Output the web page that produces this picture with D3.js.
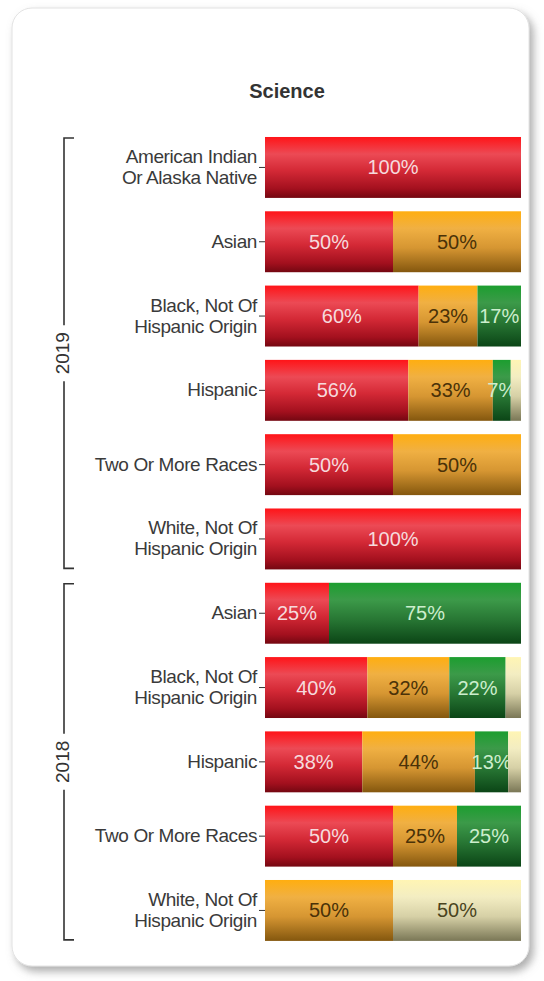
<!DOCTYPE html>
<html>
<head>
<meta charset="utf-8">
<title>Science</title>
<script src="https://d3js.org/d3.v7.min.js"></script>
<style>
    body { margin: 0; background: #ffffff; font-family: "Liberation Sans", Arial, sans-serif; }
    .cat { font-size: 19px; fill: #3a3a3a; letter-spacing: -0.4px; }
    .pct { font-size: 20px; }
</style>
</head>
<body>
<script>
// rows, top to bottom
var groups = ["2019", "2018"];
var groupSizes = [6, 5];
var categories = [
    "American Indian|Or Alaska Native", "Asian", "Black, Not Of|Hispanic Origin", "Hispanic",
    "Two Or More Races", "White, Not Of|Hispanic Origin",
    "Asian", "Black, Not Of|Hispanic Origin", "Hispanic", "Two Or More Races", "White, Not Of|Hispanic Origin"
];
// percent of students per level
var level1 = [100, 50, 60, 56, 50, 100, 25, 40, 38, 50, 0];
var level2 = [0, 50, 23, 33, 50, 0, 0, 32, 44, 25, 50];
var level3 = [0, 0, 17, 7, 0, 0, 75, 22, 13, 25, 0];
var level4 = [0, 0, 0, 4, 0, 0, 0, 6, 5, 0, 50];

var keys = ["l1", "l2", "l3", "l4"];
var table = categories.map(function(c, i) {
    return { i: i, l1: level1[i], l2: level2[i], l3: level3[i], l4: level4[i] };
});

var gradStops = {
    l1: [["0%", "#ff1418"], ["28%", "#ec4a55"], ["55%", "#d42936"], ["85%", "#a3101e"], ["100%", "#740711"]],
    l2: [["0%", "#ffae10"], ["28%", "#f0b043"], ["60%", "#d69632"], ["100%", "#84570e"]],
    l3: [["0%", "#1c9e2f"], ["28%", "#3c9a49"], ["60%", "#287734"], ["100%", "#0b4516"]],
    l4: [["0%", "#fff5b4"], ["28%", "#f3edc2"], ["60%", "#d6d0a6"], ["100%", "#7a7756"]]
};
var textColor = { l1: "#f6dadd", l2: "#4a3208", l3: "#cdeecd", l4: "#4a4420" };

var width = 544, height = 981;

var svg = d3.select("body").append("svg")
    .attr("width", width)
    .attr("height", height);

var defs = svg.append("defs");
var shadow = defs.append("filter").attr("id", "shadow")
    .attr("x", "-5%").attr("y", "-5%").attr("width", "115%").attr("height", "115%");
shadow.append("feDropShadow")
    .attr("dx", 4).attr("dy", 5).attr("stdDeviation", 4)
    .attr("flood-color", "#777").attr("flood-opacity", 0.6);

keys.forEach(function(k) {
    var lg = defs.append("linearGradient").attr("id", "g_" + k)
        .attr("x1", 0).attr("y1", 0).attr("x2", 0).attr("y2", 1);
    gradStops[k].forEach(function(s) {
        lg.append("stop").attr("offset", s[0]).attr("stop-color", s[1]);
    });
});

// panel
svg.append("rect")
    .attr("x", 12).attr("y", 8)
    .attr("width", 517).attr("height", 958)
    .attr("rx", 20).attr("ry", 20)
    .attr("fill", "#fff")
    .attr("stroke", "#e2e2e2")
    .attr("filter", "url(#shadow)");

svg.append("text")
    .attr("x", 287).attr("y", 98)
    .attr("text-anchor", "middle")
    .style("font-size", "20px")
    .style("font-weight", "bold")
    .style("fill", "#333")
    .text("Science");

var x = d3.scaleLinear().domain([0, 100]).range([265, 521]);
var y = d3.scaleBand()
    .domain(d3.range(categories.length))
    .range([130.3, 947.6])
    .paddingInner(0.18)
    .paddingOuter(0.09);

var stacked = d3.stack().keys(keys)(table);

var layer = svg.append("g").selectAll("g")
    .data(stacked)
    .enter().append("g")
    .attr("fill", function(d) { return "url(#g_" + d.key + ")"; });

layer.selectAll("rect")
    .data(function(d) { return d.filter(function(p) { return p[1] - p[0] > 0; }); })
    .enter().append("rect")
    .attr("x", function(p) { return x(p[0]); })
    .attr("width", function(p) { return x(p[1]) - x(p[0]); })
    .attr("y", function(p) { return y(p.data.i); })
    .attr("height", y.bandwidth());

layer.selectAll("text")
    .data(function(d) {
        return d.filter(function(p) { return p[1] - p[0] >= 7; })
            .map(function(p) { p.key = d.key; return p; });
    })
    .enter().append("text")
    .attr("class", "pct")
    .attr("x", function(p) { return (x(p[0]) + x(p[1])) / 2; })
    .attr("y", function(p) { return y(p.data.i) + y.bandwidth() / 2 + 7; })
    .attr("text-anchor", "middle")
    .attr("fill", function(p) { return textColor[p.key]; })
    .text(function(p) { return (p[1] - p[0]) + "%"; });

// category axis
var yAxis = d3.axisLeft(y).tickSize(6).tickFormat("");
var ax = svg.append("g")
    .attr("transform", "translate(" + 265 + ",0)")
    .call(yAxis);
ax.select(".domain").remove();
ax.selectAll(".tick line").attr("stroke", "#333");

var cat = svg.append("g").selectAll("text")
    .data(categories)
    .enter().append("text")
    .attr("class", "cat")
    .attr("text-anchor", "end")
    .attr("transform", function(d, i) {
        return "translate(257," + (y(i) + y.bandwidth() / 2) + ")";
    });
cat.each(function(d) {
    var lines = d.split("|");
    var t = d3.select(this);
    lines.forEach(function(l, j) {
        t.append("tspan")
            .attr("x", 0)
            .attr("y", (j - (lines.length - 1) / 2) * 21 + 6)
            .text(l);
    });
});

// group brackets
var start = 0;
groups.forEach(function(g, gi) {
    var first = start, last = start + groupSizes[gi] - 1;
    start += groupSizes[gi];
    var top = y(first) + 1, bot = y(last) + y.bandwidth() - 1;
    var mid = (top + bot) / 2;
    var bx = 64;
    var b = svg.append("g").attr("stroke", "#333").attr("stroke-width", 1.6).attr("fill", "none");
    b.append("path").attr("d", "M" + (bx + 10) + "," + top + "H" + bx + "V" + (mid - 28));
    b.append("path").attr("d", "M" + bx + "," + (mid + 28) + "V" + bot + "H" + (bx + 10));
    svg.append("text")
        .attr("transform", "translate(" + (bx + 5) + "," + mid + ") rotate(-90)")
        .attr("text-anchor", "middle")
        .style("font-size", "19px")
        .style("fill", "#333")
        .text(g);
});
</script>
</body>
</html>
